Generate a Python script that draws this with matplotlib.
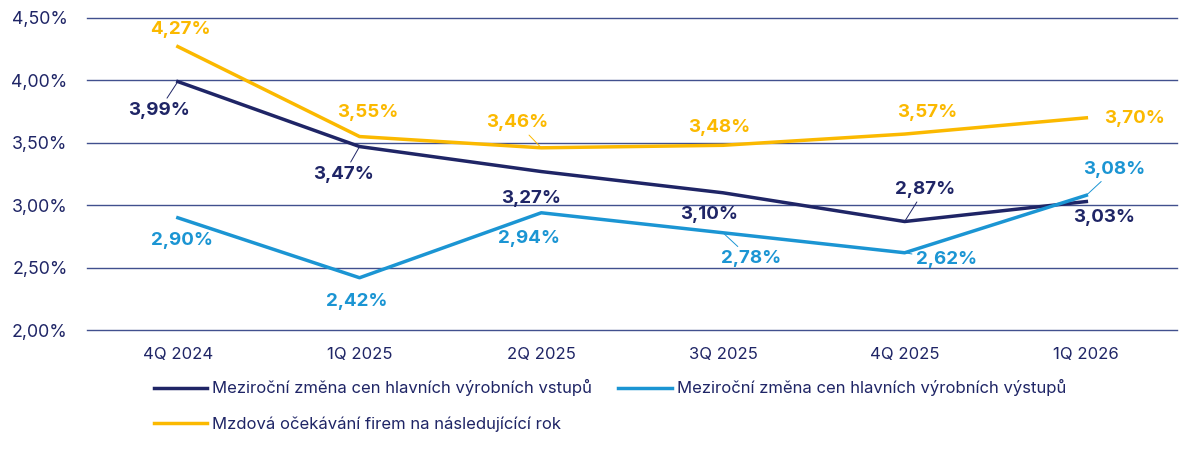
import matplotlib.pyplot as plt
from matplotlib.ticker import FuncFormatter

quarters = ['4Q 2024', '1Q 2025', '2Q 2025', '3Q 2025', '4Q 2025', '1Q 2026']
vstupy = [3.99, 3.47, 3.27, 3.10, 2.87, 3.03]
vystupy = [2.90, 2.42, 2.94, 2.78, 2.62, 3.08]
mzdy = [4.27, 3.55, 3.46, 3.48, 3.57, 3.70]
names = ['Meziroční změna cen hlavních výrobních vstupů',
         'Meziroční změna cen hlavních výrobních výstupů',
         'Mzdová očekávání firem na následujícící rok']

navy = '#1f2566'
blue = '#1b95d3'
gold = '#fbb900'
grid_c = '#41508e'

# label offsets in pixels (dx, dy) and whether a leader line is drawn
off_vstupy = [(-19, -29, True), (-16, -28, True), (-10, -27, False), (-14, -22, False), (20, 32, True), (18, -16, False)]
off_vystupy = [(4, -23, False), (-3, -24, False), (-12, -26, False), (28, -26, True), (42, -7, True), (28, 26, True)]
off_mzdy = [(3, 17, False), (8, 24, False), (-24, 25, True), (-4, 18, False), (23, 22, False), (48, -1, False)]

plt.rcParams['font.family'] = ['Inter', 'DejaVu Sans']

fig = plt.figure(figsize=(12, 4.58), dpi=100)
ax = fig.add_axes([0.0725, 0.279, 0.9085, 0.682])

x = list(range(len(quarters)))
l1, = ax.plot(x, vstupy, color=navy, lw=2.5, label=names[0], zorder=3)
l2, = ax.plot(x, vystupy, color=blue, lw=2.5, label=names[1], zorder=3)
l3, = ax.plot(x, mzdy, color=gold, lw=2.5, label=names[2], zorder=3)

for vals, offs, c in [(vstupy, off_vstupy, navy), (vystupy, off_vystupy, blue), (mzdy, off_mzdy, gold)]:
    for i, v in enumerate(vals):
        dx, dy, lead = offs[i]
        ap = dict(arrowstyle='-', color=c, lw=0.7, shrinkA=1, shrinkB=0) if lead else None
        ax.annotate(('%.2f%%' % v).replace('.', ','), (i, v), xytext=(dx, dy),
                    textcoords='offset pixels', ha='center', va='center',
                    fontsize=13.5, fontweight='bold', color=c, arrowprops=ap, zorder=4)

ax.set_xlim(-0.5, len(quarters) - 0.5)
ax.set_ylim(2.0, 4.5)
ax.set_yticks([2.0, 2.5, 3.0, 3.5, 4.0, 4.5])
ax.yaxis.set_major_formatter(FuncFormatter(lambda v, p: ('%.2f%%' % v).replace('.', ',')))
ax.set_xticks(x)
ax.set_xticklabels(quarters)
ax.tick_params(axis='x', length=0, labelsize=12, labelcolor=navy, pad=12)
ax.tick_params(axis='y', length=0, labelsize=12.8, labelcolor=navy, pad=14)
ax.grid(axis='y', color=grid_c, lw=1)
for gl in ax.get_ygridlines():
    gl.set_clip_on(False)
ax.set_axisbelow(True)
for s in ax.spines.values():
    s.set_visible(False)

fig.legend(handles=[l1, l3, l2], loc='upper left', bbox_to_anchor=(0.1215, 0.19), ncol=2,
           frameon=False, handlelength=3.2, handletextpad=0.3, columnspacing=1.55,
           labelspacing=1.2, borderpad=0,
           prop={'size': 12}, labelcolor=navy)

fig.savefig('out.png', dpi=100)
